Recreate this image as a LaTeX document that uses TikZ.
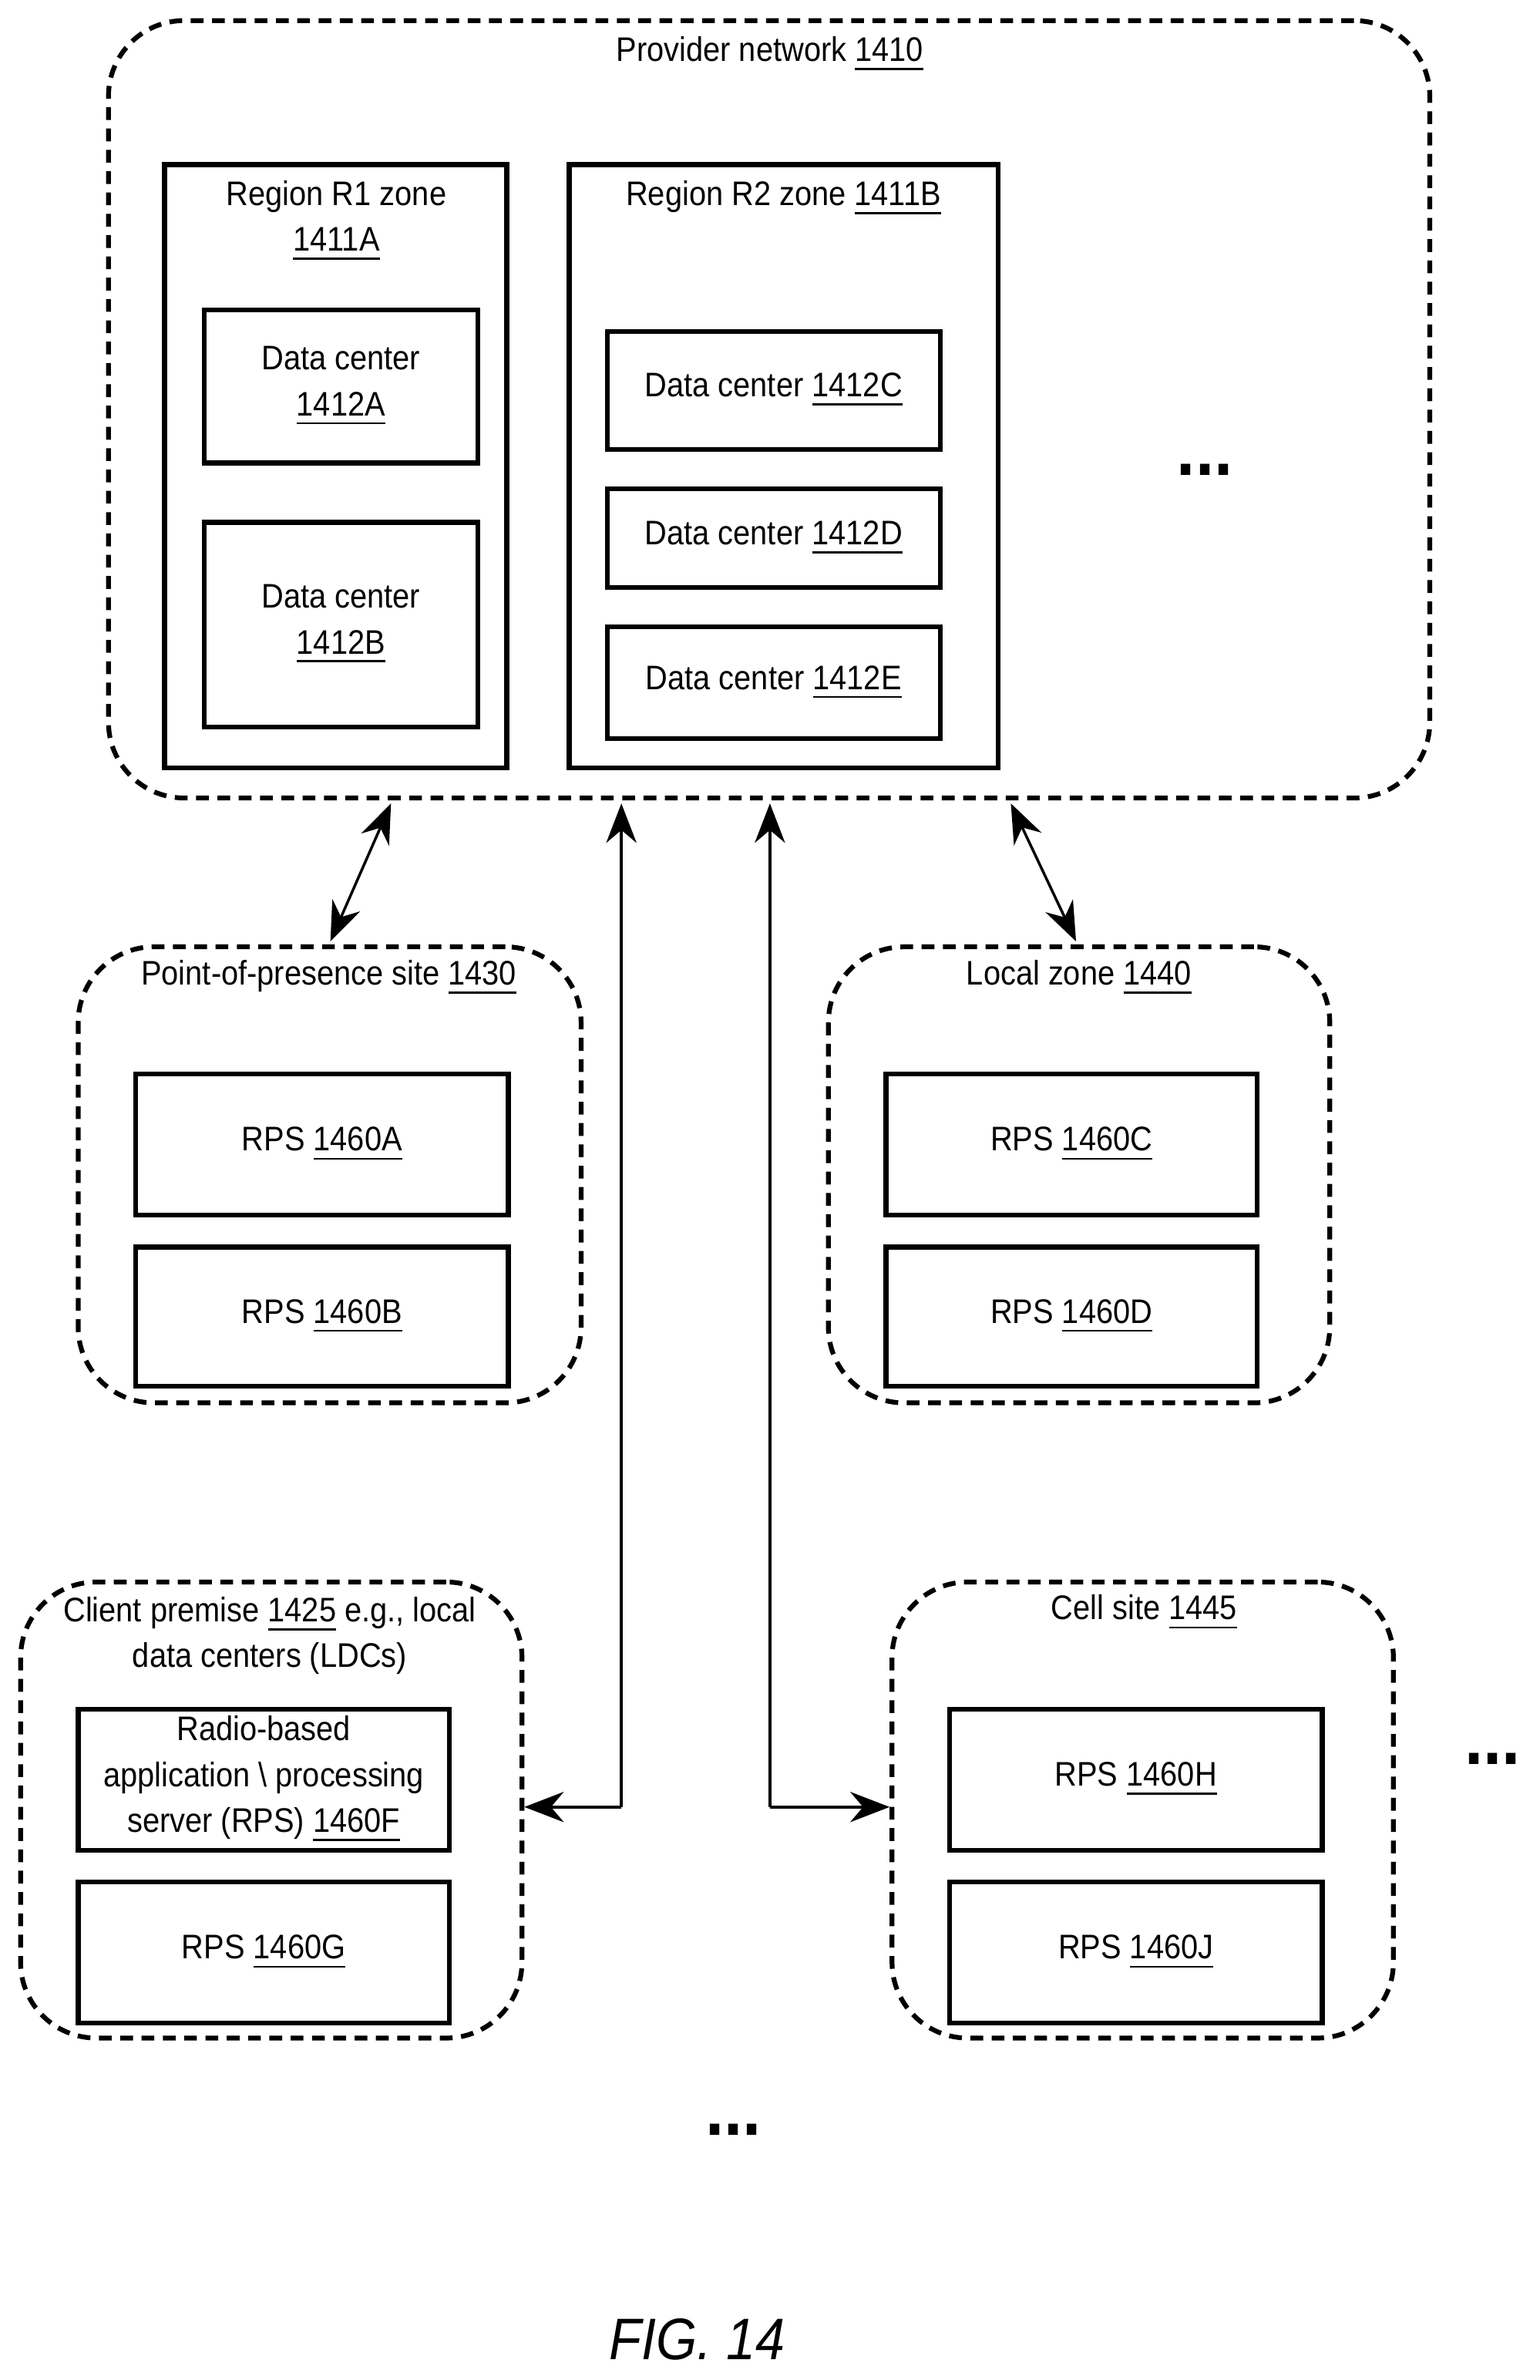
\documentclass[tikz,border=0pt]{standalone}
\usepackage{fontspec}
\setmainfont[FakeStretch=0.9]{Liberation Sans}
\usetikzlibrary{arrows.meta}
\begin{document}
\begin{tikzpicture}[x=0.1mm,y=-0.1mm,
  txt/.style={font=\fontsize{6.4}{8.6}\selectfont, align=center, inner sep=0},
  box/.style={draw, line width=0.9pt, txt, inner sep=0},
  dbox/.style={draw, line width=0.9pt, dash pattern=on 2.4pt off 1.6pt, rounded corners=5mm, inner sep=0},
  arr/.style={line width=0.5pt, -{Stealth[length=2.6mm,width=2mm]}},
  darr/.style={line width=0.5pt, {Stealth[length=2.6mm,width=2mm]}-{Stealth[length=2.6mm,width=2mm]}}]
\useasboundingbox (0,0) rectangle (1016,1570);
\newcommand{\bx}[6][box]{\node[#1, minimum width=#4*0.1mm-0.9pt, minimum height=#5*0.1mm-0.9pt] (#2) at (#3) {#6};}
% provider
\bx[dbox]{prov}{507.5,270}{875}{516}{}
\node[txt] (provl) at (508,36) {Provider network \underline{1410}};
\bx{r1}{221.5,307.5}{229}{401}{}
\node[txt] (r1l) at (222,146) {Region R1 zone\\\underline{1411A}};
\bx{dca}{225,255}{184}{104}{Data center\\\underline{1412A}}
\bx{dcb}{225,412}{184}{138}{Data center\\\underline{1412B}}
\bx{r2}{517,307.5}{286}{401}{}
\node[txt] (r2l) at (517,131) {Region R2 zone \underline{1411B}};
\bx{dcc}{510.5,257.5}{223}{81}{Data center \underline{1412C}}
\bx{dcd}{510.5,355}{223}{68}{Data center \underline{1412D}}
\bx{dce}{510.5,450.5}{223}{77}{Data center \underline{1412E}}
\node[font=\fontsize{14}{14}\selectfont\bfseries] (dots1) at (795,310) {...};
% pop
\bx[dbox]{pop}{217.5,775}{335}{304}{}
\node[txt] (popl) at (217,645) {Point-of-presence site \underline{1430}};
\bx{rpsa}{212.5,755}{249}{96}{RPS \underline{1460A}}
\bx{rpsb}{212.5,868.5}{249}{95}{RPS \underline{1460B}}
% local zone
\bx[dbox]{lz}{712,775}{334}{304}{}
\node[txt] (lzl) at (712,645) {Local zone \underline{1440}};
\bx{rpsc}{707,755}{248}{96}{RPS \underline{1460C}}
\bx{rpsd}{707,868.5}{248}{95}{RPS \underline{1460D}}
% client premise
\bx[dbox]{cp}{179,1194}{334}{304}{}
\node[txt] (cpl) at (178,1079) {Client premise \underline{1425} e.g., local\\data centers (LDCs)};
\bx{rpsf}{174,1174}{248}{96}{Radio-based\\application \textbackslash{} processing\\server (RPS) \underline{1460F}}
\bx{rpsg}{174,1288}{248}{96}{RPS \underline{1460G}}
% cell site
\bx[dbox]{cs}{754,1194}{334}{304}{}
\node[txt] (csl) at (755,1064) {Cell site \underline{1445}};
\bx{rpsh}{749.5,1174}{249}{96}{RPS \underline{1460H}}
\bx{rpsj}{749.5,1288}{249}{96}{RPS \underline{1460J}}
\node[font=\fontsize{14}{14}\selectfont\bfseries] (dots2) at (985,1160) {...};
\node[font=\fontsize{14}{14}\selectfont\bfseries] (dots3) at (484,1405) {...};
\node[font=\fontsize{11}{11}\selectfont\itshape, inner sep=0] (fig) at (460,1543) {FIG. 14};
% connectors
\draw[darr] (258,530) -- (218,621);
\draw[darr] (667,530) -- (710,621);
\draw[arr] (410,1192) -- (410,530);
\draw[arr] (410,1192) -- (cp.east |- 410,1192);
\draw[arr] (508,1192) -- (508,530);
\draw[arr] (508,1192) -- (cs.west |- 508,1192);
\end{tikzpicture}
\end{document}
